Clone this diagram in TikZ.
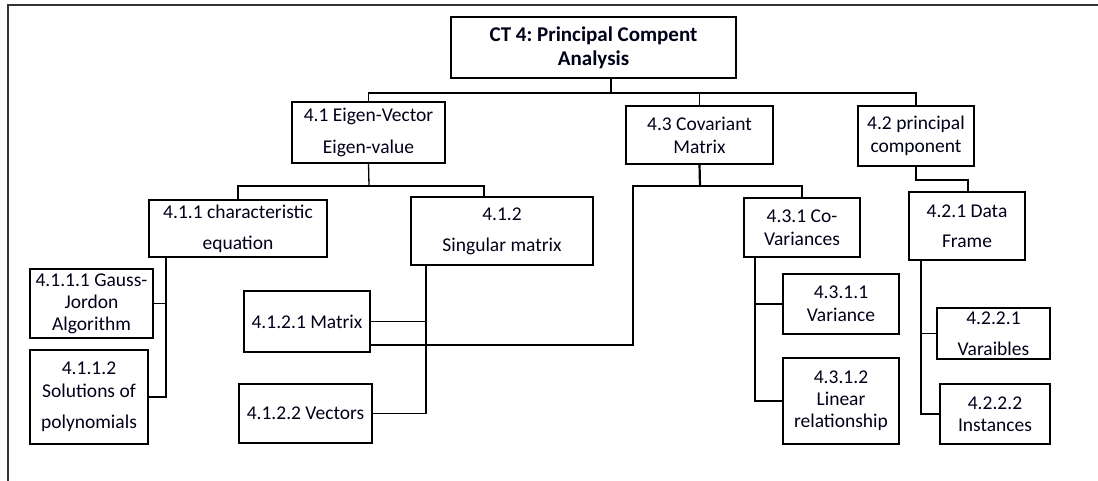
\documentclass[tikz,border=0pt]{standalone}
\usepackage{fontspec}
\setmainfont{Carlito}
\frenchspacing
\begin{document}
\begin{tikzpicture}[x=1pt,y=-1pt,
  box/.style={draw, line width=1.3pt, inner sep=0pt, outer sep=0pt, align=center,
    text=black!90!blue, font=\fontsize{19.5}{23}\selectfont},
  link/.style={draw, line width=1.3pt, line cap=rect}]
\useasboundingbox (0,0) rectangle (1098,481);
% page frame (top and left edges)
\draw[line width=1.6pt, black!80] (8,481) -- (8,5) -- (1098,5);

% level 0
\node[box, minimum width=285, minimum height=61, font=\fontsize{21}{24}\selectfont\bfseries]
  (root) at (593.5,47.5) {CT 4: Principal Compent\\Analysis};

% level 1
\node[box, minimum width=153, minimum height=61] (n41) at (368.5,132.5) {4.1 Eigen-Vector\\[9pt]Eigen-value};
\node[box, minimum width=147, minimum height=58] (n43) at (699.5,135) {4.3 Covariant\\Matrix};
\node[box, minimum width=116, minimum height=60] (n42) at (916,136) {4.2 principal\\component};

% level 2
\node[box, minimum width=178, minimum height=57] (n411) at (238,228.5) {4.1.1 characteristic\\[8pt]equation};
\node[box, minimum width=182, minimum height=68] (n412) at (502,231) {4.1.2\\[8pt]Singular matrix};
\node[box, minimum width=116, minimum height=59] (n431) at (802,227.5) {4.3.1 Co-\\Variances};
\node[box, minimum width=116, minimum height=68] (n421) at (967,226) {4.2.1 Data\\[7pt]Frame};

% level 3
\node[box, minimum width=123, minimum height=69] (n4111) at (91.5,303.5) {4.1.1.1 Gauss-\\[-1pt]Jordon\\[-1pt]Algorithm};
\node[box, minimum width=118, minimum height=94] (n4112) at (89,397) {4.1.1.2\\Solutions of\\[8pt]polynomials};
\node[box, minimum width=126, minimum height=61] (n4121) at (307,321.5) {4.1.2.1 Matrix};
\node[box, minimum width=133, minimum height=59] (n4122) at (305.5,413.5) {4.1.2.2 Vectors};
\node[box, minimum width=116, minimum height=60] (n4311) at (841,304) {4.3.1.1\\Variance};
\node[box, minimum width=116, minimum height=86] (n4312) at (841,401) {4.3.1.2\\[-1pt]Linear\\[-1pt]relationship};
\node[box, minimum width=113, minimum height=51] (n4221) at (993.5,333.5) {4.2.2.1\\[8pt]Varaibles};
\node[box, minimum width=110, minimum height=60] (n4222) at (995,414) {4.2.2.2\\[-1pt]Instances};

% junction points of the elbow connectors
\coordinate (j0) at (611,93);
\coordinate (j1) at (369,186);
\coordinate (d412) at (484,186);
\coordinate (j3) at (700,186);
\coordinate (k3) at (633,345);
\coordinate (j2) at (916,180);
\coordinate (d421) at (968,180);
\coordinate (t411) at (166,257);
\coordinate (t412) at (426,265);
\coordinate (t431) at (755,257);
\coordinate (t421) at (921,260);

% root to level 1
\draw[link] (j0 |- root.south) -- (j0);
\draw[link] (n41.north) -- (n41.north |- j0) -- (n42.north |- j0) -- (n42.north);
\draw[link] (n43.north) -- (n43.north |- j0);

% 4.1 to its children
\draw[link] (n41.south) -- (j1);
\draw[link] (n411.north) -- (n411.north |- j1) -- (d412) -- (d412 |- n412.north);

% 4.3 to its children and to the matrix node
\draw[line width=2.2pt] (n43.south) -- (j3);
\draw[link] (n431.north) -- (n431.north |- j3) -- (j3 -| k3) -- (k3) -- (k3 -| n4121.east);

% 4.2 to 4.2.1
\draw[link] (n42.south) -- (j2) -- (d421) -- (d421 |- n421.north);

% 4.1.1 to its children
\draw[link] (t411) -- (t411 |- n4112.east) -- (n4112.east);
\draw[link] (n4111.east) -- (n4111.east -| t411);

% 4.1.2 to its children
\draw[link] (t412) -- (t412 |- n4122.east) -- (n4122.east);
\draw[link] (n4121.east) -- (n4121.east -| t412);

% 4.3.1 to its children
\draw[link] (t431) -- (t431 |- n4312.west) -- (n4312.west);
\draw[link] (n4311.west) -- (n4311.west -| t431);

% 4.2.1 to its children
\draw[link] (t421) -- (t421 |- n4222.west) -- (n4222.west);
\draw[link] (n4221.west) -- (n4221.west -| t421);
\end{tikzpicture}
\end{document}
